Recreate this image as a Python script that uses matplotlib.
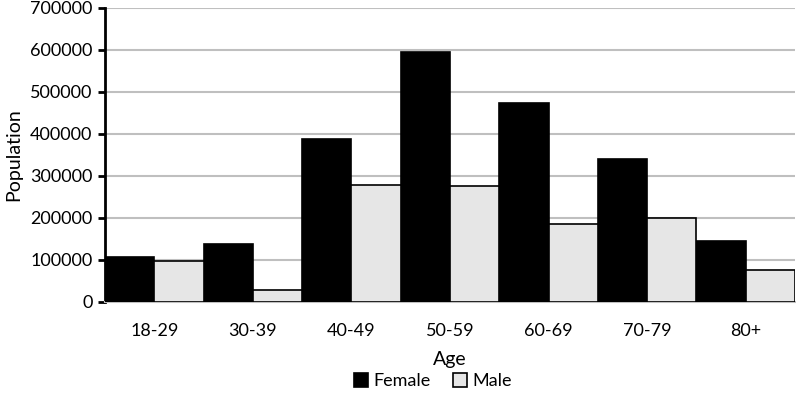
import numpy as np
import matplotlib.pyplot as plt

ages = ['18-29', '30-39', '40-49', '50-59', '60-69', '70-79', '80+']
female = [107000, 138000, 388000, 595000, 474000, 341000, 145000]
male = [98000, 29000, 279000, 276000, 186000, 200000, 76000]

plt.rcParams['font.family'] = ['Lato', 'DejaVu Sans']

fig = plt.figure(figsize=(7.96, 4.01), dpi=100)
ax = fig.add_axes([105/796, 1-302/401, 690/796, 294/401])

x = np.arange(len(ages))
w = 0.5
ax.bar(x - w/2, female, w, color='black', edgecolor='black', linewidth=1.2, label='Female', zorder=3)
ax.bar(x + w/2, male, w, color='#e6e6e6', edgecolor='black', linewidth=1.2, label='Male', zorder=3)

ax.set_xlim(-0.5, 6.5)
ax.set_ylim(0, 700000)
ax.set_yticks(range(0, 700001, 100000))
ax.set_xticks(x)
ax.set_xticklabels(ages)
ax.yaxis.grid(True, color='#bfbfbf', linewidth=1.5, zorder=0)
ax.set_axisbelow(True)

for s in ['top', 'right']:
    ax.spines[s].set_visible(False)
ax.spines['left'].set_linewidth(2)
ax.spines['left'].set_color('black')
ax.spines['bottom'].set_color('#bfbfbf')
ax.spines['bottom'].set_linewidth(1.5)

ax.tick_params(axis='y', length=5, width=2, labelsize=13, pad=4)
ax.tick_params(axis='x', length=0, labelsize=13, pad=15)
ax.set_xlabel('Age', fontsize=14, labelpad=9)
ax.set_ylabel('Population', fontsize=14, labelpad=6)

fig.legend(*ax.get_legend_handles_labels(), loc='center', bbox_to_anchor=(0.544, 0.05), ncol=2,
           frameon=False, fontsize=13, handlelength=0.8, handleheight=0.8,
           handletextpad=0.3, columnspacing=1.2)

fig.savefig('out.png', dpi=100)
